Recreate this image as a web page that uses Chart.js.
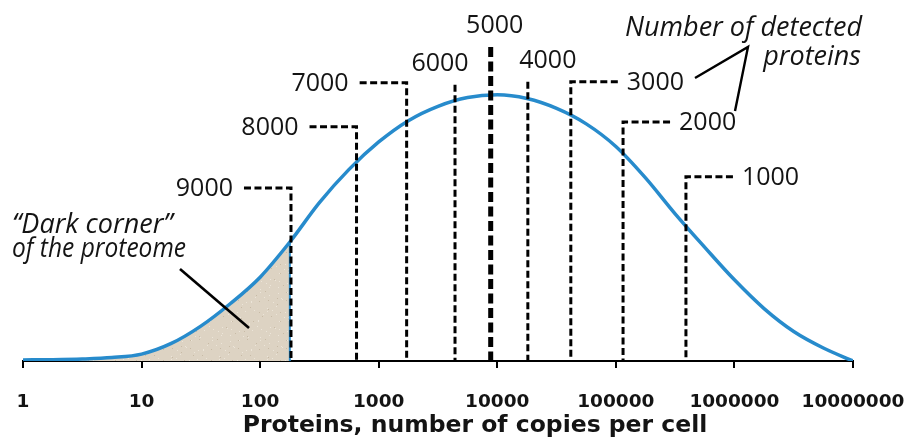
<!DOCTYPE html>
<html>
<head>
<meta charset="utf-8">
<script src="https://cdn.jsdelivr.net/npm/chart.js@4.4.1/dist/chart.umd.min.js"></script>
<style>
  html, body { margin: 0; padding: 0; background: #ffffff; }
  #wrap { width: 908px; height: 439px; }
</style>
</head>
<body>
<div id="wrap"><canvas id="chart" width="908" height="439"></canvas></div>
<script>
// Decade ticks of the copy-number axis and their printed labels
const copyTicks  = [1, 10, 100, 1000, 10000, 100000, 1000000, 10000000];
const tickLabels = ['1', '10', '100', '1000', '10000', '100000', '1000000', '10000000'];

// Abundance distribution of the proteome, sampled every quarter decade (peak = 100)
const curveCopies = [1, 1.78, 3.16, 5.62, 10, 17.8, 31.6, 56.2,
                     100, 178, 316, 562, 1000, 1778, 3162, 5623,
                     10000, 17783, 31623, 56234, 100000, 177828, 316228, 562341,
                     1000000, 1778279, 3162278, 5623413, 10000000];
const curveLevel  = [0.4, 0.5, 0.75, 1.3, 2.6, 6.6, 13.1, 21.6,
                     31.5, 44.7, 59.5, 72.0, 82.3, 90.3, 95.7, 99.0,
                     100, 98.6, 94.9, 89.1, 80.6, 68.8, 55.3, 42.7,
                     30.5, 19.7, 11.1, 4.9, 0];

// Number of detected proteins and the copy number each detection depth reaches
const detectedProteins = [9000, 8000, 7000, 6000, 5000, 4000, 3000, 2000, 1000];
const cutoffCopies     = [182, 650, 1720, 4400, 8800, 18100, 41700, 115000, 390000];

// Upper copy-number limit of the "dark corner"
const darkCornerLimit = 178;

const curveBlue = '#278bcc';
const cornerTan = '#ddd3c3';
const ink = '#141414';

// Leader drawing: height of each leader (in level units), side of its label
const leaderLayout = [
  { top: 65,    side: 'left'  },
  { top: 88,    side: 'left'  },
  { top: 104.5, side: 'left'  },
  { top: 103.8, side: 'up', dx: -15 },
  { top: 118,   side: 'up', dx: 4, heavy: true },
  { top: 104.9, side: 'up', dx: 20 },
  { top: 104.9, side: 'right' },
  { top: 89.8,  side: 'right' },
  { top: 69.2,  side: 'right' }
];

// Sand-grain fill for the dark corner
function sandPattern(ctx) {
  const tile = document.createElement('canvas');
  tile.width = 48; tile.height = 48;
  const t = tile.getContext('2d');
  t.fillStyle = cornerTan;
  t.fillRect(0, 0, 48, 48);
  for (let k = 0; k < 70; k++) {
    const gx = (k * 29 + 7) % 48;
    const gy = (k * 17 + (k * k) % 13) % 48;
    t.fillStyle = k % 3 === 0 ? '#c8bba6' : '#ece5d9';
    t.fillRect(gx, gy, 1, 1);
  }
  return ctx.createPattern(tile, 'repeat');
}

const darkCorner = {
  id: 'darkCorner',
  beforeDatasetsDraw(chart) {
    const { ctx, scales: { x, y } } = chart;
    const line = chart.getDatasetMeta(0).dataset;
    const pts = chart.getDatasetMeta(0).data;
    const edge = x.getPixelForValue(darkCornerLimit);
    const base = y.getPixelForValue(0);
    ctx.save();
    ctx.beginPath();
    ctx.rect(0, 0, edge, base);
    ctx.clip();
    ctx.beginPath();
    line.path(ctx);
    ctx.lineTo(pts[pts.length - 1].x, base);
    ctx.lineTo(pts[0].x, base);
    ctx.closePath();
    ctx.fillStyle = sandPattern(ctx);
    ctx.fill();
    ctx.restore();
  }
};

const annotations = {
  id: 'annotations',
  afterDatasetsDraw(chart) {
    const { ctx, scales: { x, y } } = chart;
    const base = y.getPixelForValue(0);
    ctx.save();

    // right edge of the dark corner
    const edge = x.getPixelForValue(darkCornerLimit);
    const edgeTop = y.getPixelForValue(curveLevel[curveCopies.indexOf(darkCornerLimit)]);
    ctx.strokeStyle = curveBlue;
    ctx.lineWidth = 2;
    ctx.beginPath();
    ctx.moveTo(edge, edgeTop);
    ctx.lineTo(edge, base);
    ctx.stroke();

    // dashed leaders with detected-protein counts
    ctx.strokeStyle = '#000';
    ctx.fillStyle = ink;
    ctx.font = '25px "Open Sans"';
    ctx.textBaseline = 'middle';
    cutoffCopies.forEach((c, i) => {
      const L = leaderLayout[i];
      const px = x.getPixelForValue(c);
      const top = y.getPixelForValue(L.top);
      ctx.lineWidth = L.heavy ? 5 : 3;
      ctx.setLineDash(L.heavy ? [10, 4.5] : [7, 3.5]);
      ctx.beginPath();
      const seg = 47;
      if (L.side === 'left') {
        ctx.moveTo(px - seg, top);
        ctx.lineTo(px, top);
      } else if (L.side === 'right') {
        ctx.moveTo(px + seg, top);
        ctx.lineTo(px, top);
      } else {
        ctx.moveTo(px, top);
      }
      ctx.lineTo(px, base);
      ctx.stroke();

      const text = String(detectedProteins[i]);
      if (L.side === 'left') {
        ctx.textAlign = 'right';
        ctx.fillText(text, px - seg - 11, top + 1);
      } else if (L.side === 'right') {
        ctx.textAlign = 'left';
        ctx.fillText(text, px + seg + 9, top + 1);
      } else {
        ctx.textAlign = 'center';
        ctx.fillText(text, px + L.dx, top - 21);
      }
    });
    ctx.setLineDash([]);

    // "dark corner" callout
    ctx.font = 'italic 27px "Open Sans"';
    ctx.textAlign = 'left';
    ctx.textBaseline = 'alphabetic';
    ctx.fillText('\u201CDark corner\u201D', 12, 233);
    ctx.fillText('of the proteome', 12, 257, 174);
    ctx.lineWidth = 2.6;
    ctx.beginPath();
    ctx.moveTo(180, 269);
    ctx.lineTo(249, 328);
    ctx.stroke();

    // detected-proteins callout
    ctx.textAlign = 'right';
    ctx.fillText('Number of detected', 862, 36);
    ctx.fillText('proteins', 861, 65);
    ctx.lineWidth = 2.4;
    ctx.beginPath();
    ctx.moveTo(695, 78);
    ctx.lineTo(748, 47);
    ctx.lineTo(735, 111);
    ctx.stroke();

    // axis title
    ctx.font = 'bold 23.5px "DejaVu Sans"';
    ctx.textAlign = 'center';
    ctx.fillText('Proteins, number of copies per cell', 475, 432);

    ctx.restore();
  }
};

const points = curveCopies.map((c, i) => ({ x: c, y: curveLevel[i] }));

new Chart(document.getElementById('chart'), {
  type: 'line',
  data: {
    datasets: [{
      data: points,
      borderColor: curveBlue,
      borderWidth: 3.5,
      cubicInterpolationMode: 'monotone',
      pointRadius: 0,
      fill: false
    }]
  },
  options: {
    responsive: false,
    animation: false,
    layout: { padding: { left: 23, right: 55, top: 15, bottom: 0 } },
    plugins: { legend: { display: false }, tooltip: { enabled: false } },
    scales: {
      x: {
        type: 'logarithmic',
        min: 1,
        max: 10000000,
        afterBuildTicks: (s) => { s.ticks = copyTicks.map(v => ({ value: v })); },
        afterFit: (s) => { s.height = 78; s.paddingLeft = 0; s.paddingRight = 0; },
        ticks: {
          autoSkip: false,
          maxRotation: 0,
          padding: 23,
          color: ink,
          font: { family: 'DejaVu Sans', weight: 'bold', size: 18.5 },
          callback: (v, i) => tickLabels[i]
        },
        grid: { drawOnChartArea: false, drawTicks: true, tickLength: 7, color: '#000', lineWidth: 2 },
        border: { display: true, color: '#000', width: 2 }
      },
      y: { display: false, min: 0, max: 130 }
    }
  },
  plugins: [darkCorner, annotations]
});
</script>
</body>
</html>
